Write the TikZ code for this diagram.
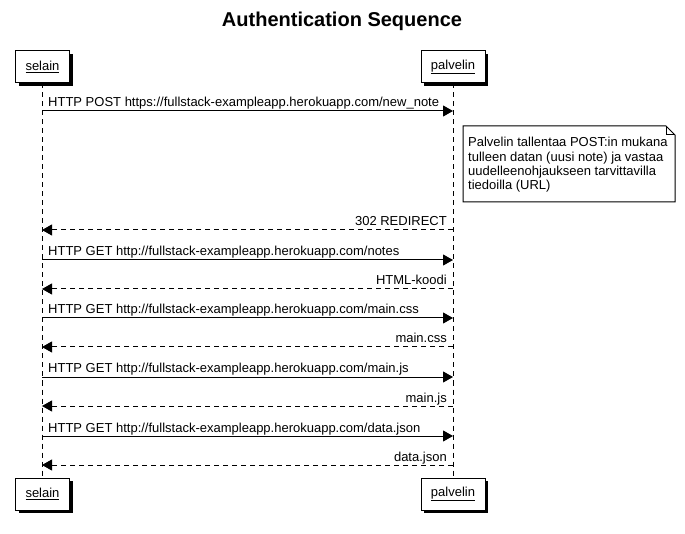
\documentclass[tikz,border=0pt]{standalone}
\usepackage{fontspec}
\setmainfont{Liberation Sans}
\usetikzlibrary{arrows.meta, shadows, positioning}

\tikzset{
  actor/.style={draw, fill=white, line width=1pt, minimum height=32, inner sep=0pt,
    drop shadow={shadow xshift=3pt, shadow yshift=-3pt, fill=black, opacity=1}},
  lifeline/.style={line width=1pt, dash pattern=on 5pt off 4pt},
  msg/.style={line width=1pt, -{Triangle[length=10pt,width=11pt]}},
  reply/.style={msg, dash pattern=on 5pt off 4pt},
  reqlabel/.style={anchor=base west, inner sep=0pt},
  replabel/.style={anchor=base east, inner sep=0pt},
}

\begin{document}
\begin{tikzpicture}[x=1pt,y=-1pt,font=\fontsize{13}{15}\selectfont]
    \useasboundingbox (0,0) rectangle (685,534);
    \node[font=\bfseries\fontsize{20}{24}\selectfont] (title) at (342,21) {Authentication Sequence};
    % participants
    \node[actor, minimum width=54] (selain) at (42.5,67) {\underline{selain}};
    \node[actor, minimum width=64] (palvelin) at (453,67) {\underline{palvelin}};
    \node[actor, minimum width=54] (selainB) at (42.5,494) {\underline{selain}};
    \node[actor, minimum width=64] (palvelinB) at (453,494) {\underline{palvelin}};
    \draw[lifeline] (selain.south) -- (selainB.north);
    \draw[lifeline] (palvelin.south) -- (palvelinB.north);
    % message end points
    \coordinate (s1) at (42,111);  \coordinate (p1) at (453,111);
    \coordinate (s2) at (42,230);  \coordinate (p2) at (453,230);
    \coordinate (s3) at (42,260);  \coordinate (p3) at (453,260);
    \coordinate (s4) at (42,289);  \coordinate (p4) at (453,289);
    \coordinate (s5) at (42,318);  \coordinate (p5) at (453,318);
    \coordinate (s6) at (42,347);  \coordinate (p6) at (453,347);
    \coordinate (s7) at (42,377);  \coordinate (p7) at (453,377);
    \coordinate (s8) at (42,406);  \coordinate (p8) at (453,406);
    \coordinate (s9) at (42,436);  \coordinate (p9) at (453,436);
    \coordinate (s10) at (42,465); \coordinate (p10) at (453,465);
    % messages
    \draw[msg]   (s1) -- (p1);
    \draw[reply] (p2) -- (s2);
    \draw[msg]   (s3) -- (p3);
    \draw[reply] (p4) -- (s4);
    \draw[msg]   (s5) -- (p5);
    \draw[reply] (p6) -- (s6);
    \draw[msg]   (s7) -- (p7);
    \draw[reply] (p8) -- (s8);
    \draw[msg]   (s9) -- (p9);
    \draw[reply] (p10) -- (s10);
    \node[reqlabel] (l1) at (48,107) {HTTP POST https://fullstack-exampleapp.herokuapp.com/new\_note};
    \node[replabel] (l2) at (447,226) {302 REDIRECT};
    \node[reqlabel] (l3) at (48,256) {HTTP GET http://fullstack-exampleapp.herokuapp.com/notes};
    \node[replabel] (l4) at (447,285) {HTML-koodi};
    \node[reqlabel] (l5) at (48,314) {HTTP GET http://fullstack-exampleapp.herokuapp.com/main.css};
    \node[replabel] (l6) at (447,343) {main.css};
    \node[reqlabel] (l7) at (48,373) {HTTP GET http://fullstack-exampleapp.herokuapp.com/main.js};
    \node[replabel] (l8) at (447,402) {main.js};
    \node[reqlabel] (l9) at (48,432) {HTTP GET http://fullstack-exampleapp.herokuapp.com/data.json};
    \node[replabel] (l10) at (447,461) {data.json};
    % note
    \draw[line width=1pt, fill=white] (463,126) -- (666,126) -- (675,135) -- (675,202) -- (463,202) -- cycle;
    \draw[line width=1pt] (666,126) -- (666,135) -- (675,135);
    \node[anchor=base west, align=left, inner sep=0pt, font=\fontsize{13}{14.4}\selectfont] (note) at (468,190)
      {Palvelin tallentaa POST:in mukana\\tulleen datan (uusi note) ja vastaa\\uudelleenohjaukseen tarvittavilla\\tiedoilla (URL)};
\end{tikzpicture}
\end{document}
